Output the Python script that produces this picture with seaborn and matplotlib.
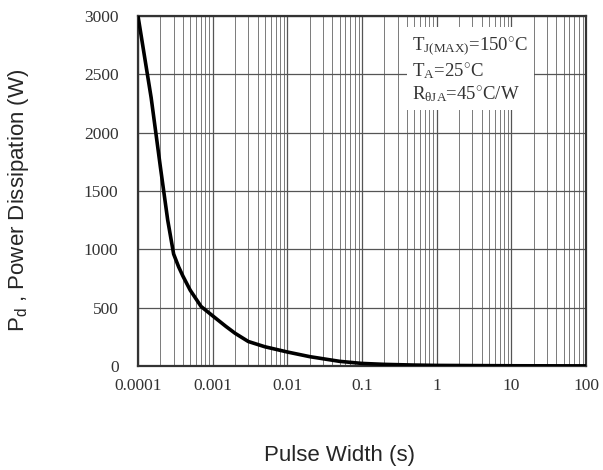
import numpy as np
import pandas as pd
import matplotlib
matplotlib.use("Agg")
import matplotlib.pyplot as plt
import seaborn as sns
from matplotlib.ticker import LogLocator, FixedLocator, NullFormatter

pulse_width = [1e-4, 1.5e-4, 2e-4, 2.5e-4, 3e-4, 3.5e-4, 4e-4, 5e-4, 7e-4, 1e-3, 1.5e-3, 2e-3, 3e-3,
               5e-3, 1e-2, 2e-2, 5e-2, 0.1, 0.2, 0.5, 1, 10, 100]
power = [3000, 2300, 1700, 1250, 960, 850, 770, 650, 510, 430, 340, 280, 210,
         165, 120, 80, 40, 22, 14, 8, 5, 2, 1]
x_ticks = [1e-4, 1e-3, 1e-2, 1e-1, 1, 10, 100]
x_tick_labels = ["0.0001", "0.001", "0.01", "0.1", "1", "10", "100"]
y_ticks = [0, 500, 1000, 1500, 2000, 2500, 3000]
notes = [r"T$_{\mathregular{J(MAX)}}$=150$^{\circ}$C",
         r"T$_{\mathregular{A}}$=25$^{\circ}$C",
         r"R$_{\mathregular{\theta JA}}$=45$^{\circ}$C/W"]

sns.set_style("white")
plt.rcParams["font.family"] = ["Liberation Serif", "DejaVu Serif"]
plt.rcParams["mathtext.fontset"] = "custom"
plt.rcParams["mathtext.rm"] = "Liberation Serif"
plt.rcParams["mathtext.it"] = "Liberation Serif"

df = pd.DataFrame({"pw": pulse_width, "pd": power})

fig = plt.figure(figsize=(6.03, 4.70), dpi=100)
ax = fig.add_axes([138/603, 1-366/470, (586-138)/603, (366-16)/470])

sns.lineplot(data=df, x="pw", y="pd", ax=ax, color="black", linewidth=2.6, zorder=5)
ax.set_xscale("log")
ax.set_xlim(1e-4, 100)
ax.set_ylim(0, 3000)

ax.xaxis.set_major_locator(FixedLocator(x_ticks))
ax.set_xticklabels(x_tick_labels)
ax.xaxis.set_minor_locator(LogLocator(base=10, subs=np.arange(2, 10)))
ax.xaxis.set_minor_formatter(NullFormatter())
ax.set_yticks(y_ticks)
ax.set_yticklabels([str(v) for v in y_ticks])

ax.grid(which="major", axis="both", color="#555555", linewidth=0.9)
ax.grid(which="minor", axis="x", color="#7a7a7a", linewidth=0.7)
ax.tick_params(which="both", length=0, labelsize=12.5, colors="#333333")
ax.tick_params(axis="x", pad=9)
ax.tick_params(axis="y", pad=14)
for s in ax.spines.values():
    s.set_color("#333333")
    s.set_linewidth(1.6)

ax.set_xlabel("")
ax.set_ylabel("")

box_text = "\n".join(notes)
ax.text(0.612, 0.945, box_text, transform=ax.transAxes, fontsize=13.5, color="#333333",
        va="top", ha="left", linespacing=1.25, zorder=6,
        bbox=dict(facecolor="white", edgecolor="none", pad=4))

fig.text(340/603, 1-455/470, "Pulse Width (s)", ha="center", va="center",
         fontsize=16, family=["Liberation Sans", "DejaVu Sans"])
fig.text(19/603, 1-200/470, r"P$_{\mathregular{d}}$ , Power Dissipation (W)", ha="center", va="center",
         rotation=90, fontsize=16, family=["Liberation Sans", "DejaVu Sans"])

fig.savefig("out.png", dpi=100)
